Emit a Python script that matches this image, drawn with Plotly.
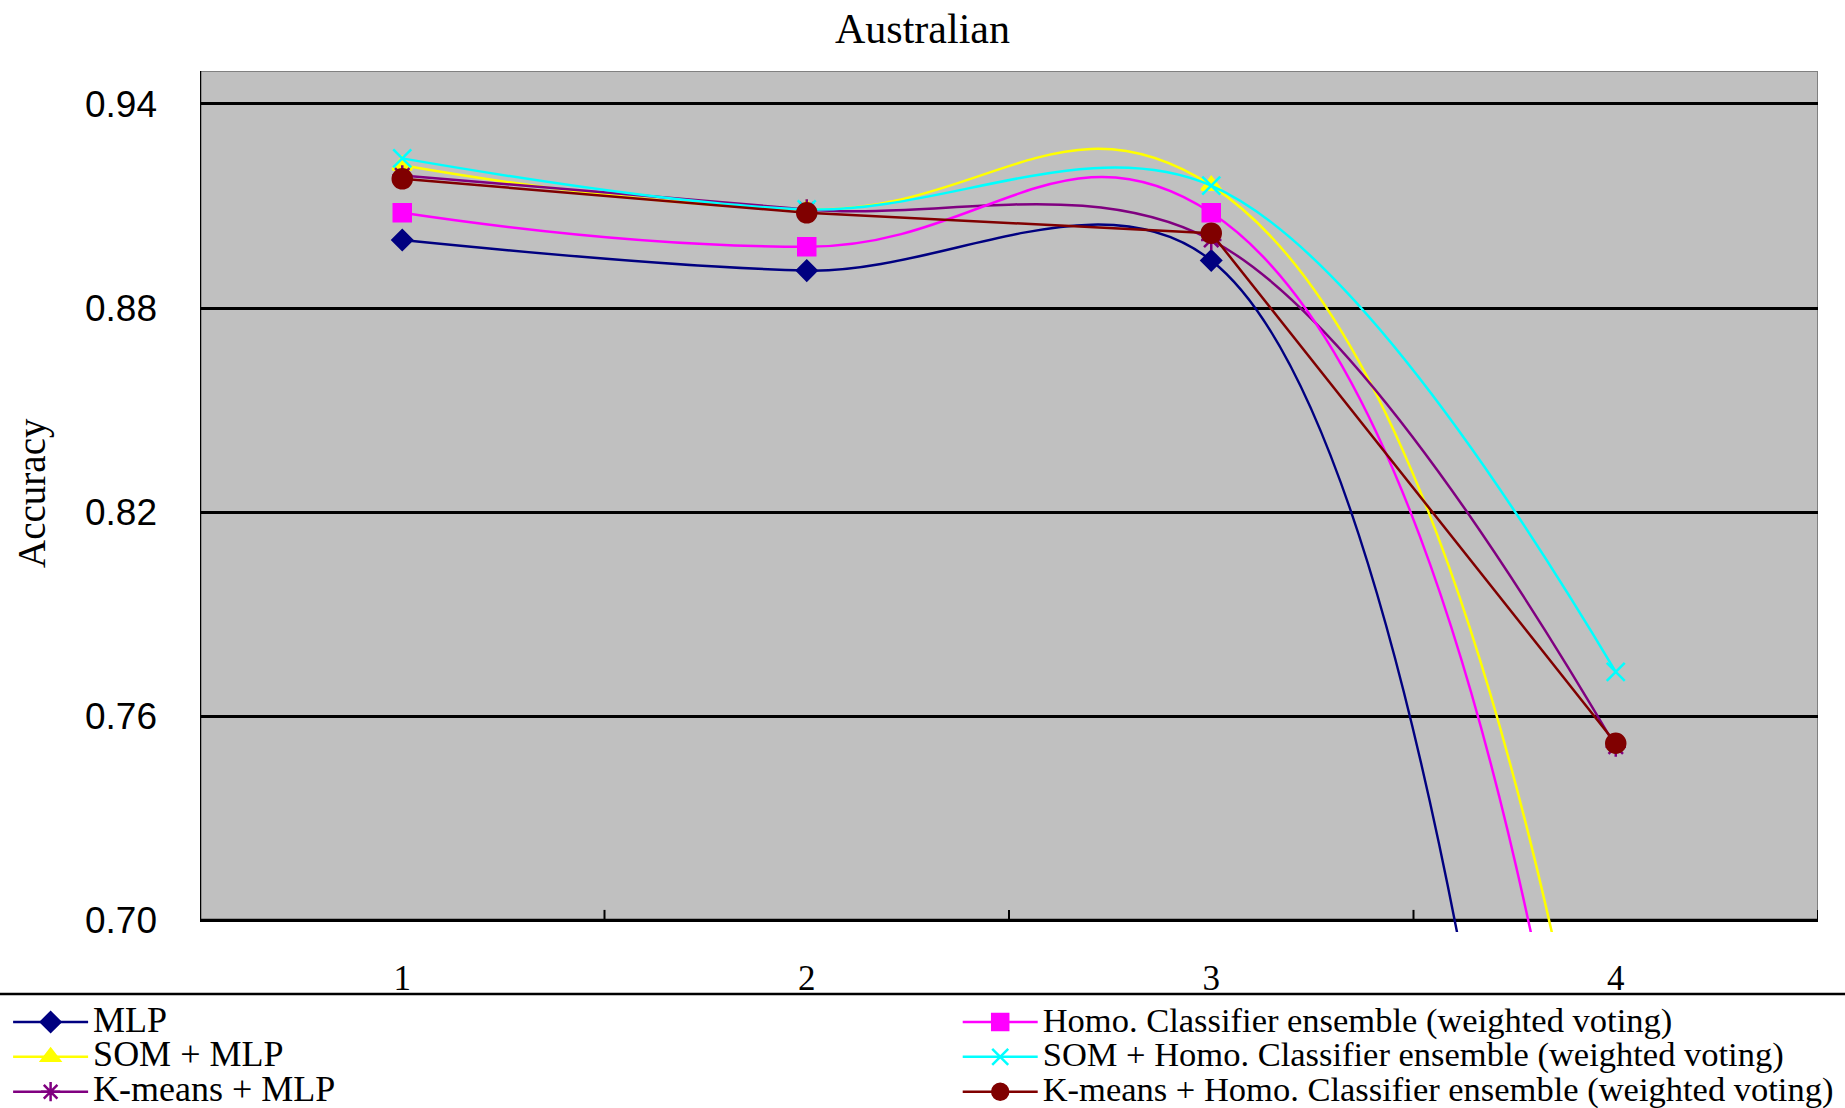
import plotly.graph_objects as go

# Australian dataset: accuracy of each model over four runs
runs = [1, 2, 3, 4]
run_labels = ["1", "2", "3", "4"]

mlp = [0.900, 0.891, 0.894, 0.35]
som_mlp = [0.922, 0.909, 0.916, 0.60]
kmeans_mlp = [0.919, 0.909, 0.900, 0.751]
homo = [0.908, 0.898, 0.908, 0.55]
som_homo = [0.924, 0.909, 0.916, 0.773]
kmeans_homo = [0.918, 0.908, 0.902, 0.752]

series_names = [
    "MLP",
    "SOM + MLP",
    "K-means + MLP",
    "Homo. Classifier ensemble (weighted voting)",
    "SOM + Homo. Classifier ensemble (weighted voting)",
    "K-means + Homo. Classifier ensemble (weighted voting)",
]

y_ticks = [0.70, 0.76, 0.82, 0.88, 0.94]

Y_LOW, Y_TOP = 0.70, 0.9497
SERIF = "Liberation Serif, Times New Roman, serif"
SANS = "Liberation Sans, Arial, sans-serif"

# (values, colour, marker symbol, marker size, line shape, smoothing, legend)
styles = [
    (mlp, "#000080", "diamond", 15, "spline", 1.0, "legend"),
    (som_mlp, "#FFFF00", "triangle-up", 17, "spline", 1.3, "legend"),
    (kmeans_mlp, "#800080", "asterisk-open", 17, "spline", 1.0, "legend"),
    (homo, "#FF00FF", "square", 17, "spline", 1.3, "legend2"),
    (som_homo, "#00FFFF", "x-thin-open", 18, "spline", 1.0, "legend2"),
    (kmeans_homo, "#800000", "circle", 19, "linear", 0, "legend2"),
]
legend_text_px = {"legend": 36, "legend2": 34.5}

fig = go.Figure()
for name, (vals, color, symbol, size, shape, smooth, leg) in zip(series_names, styles):
    fig.add_trace(go.Scatter(
        x=runs, y=vals, mode="lines+markers",
        name=f'<span style="font-size:{legend_text_px[leg]}px">{name}</span>',
        legend=leg,
        line=dict(color=color, width=2.5, shape=shape, smoothing=smooth),
        marker=dict(symbol=symbol, size=size, color=color,
                    line=dict(color=color, width=2.5)),
    ))

shapes = [
    # grey plot area
    dict(type="rect", xref="x", yref="y", x0=0.5, x1=4.5, y0=Y_LOW, y1=Y_TOP,
         fillcolor="#C0C0C0", line=dict(width=0), layer="below"),
    # plot area frame
    dict(type="rect", xref="x", yref="y", x0=0.5, x1=4.5, y0=Y_LOW, y1=Y_TOP,
         line=dict(color="#808080", width=2), layer="below"),
    # value axis line
    dict(type="line", xref="x", yref="y", x0=0.5, x1=0.5, y0=Y_LOW, y1=Y_TOP,
         line=dict(color="black", width=2.5), layer="below"),
    # category axis line
    dict(type="line", xref="x", yref="y", x0=0.5, x1=4.5, y0=Y_LOW, y1=Y_LOW,
         line=dict(color="black", width=2.5), layer="below"),
    # legend separator
    dict(type="line", xref="paper", yref="paper", x0=-0.13, x1=1.02,
         y0=-0.072, y1=-0.072, line=dict(color="black", width=2.5)),
]
# category boundary ticks
for r in runs:
    shapes.append(dict(type="line", xref="x", yref="y", x0=r + 0.5, x1=r + 0.5,
                       y0=Y_LOW, y1=Y_LOW + 0.003,
                       line=dict(color="black", width=2), layer="below"))

legend_common = dict(orientation="v", y=-0.0785, xanchor="left", yanchor="top",
                     bgcolor="rgba(0,0,0,0)", borderwidth=0, itemwidth=75,
                     font=dict(family=SERIF, size=24.5, color="black"))

fig.update_layout(
    width=1845, height=1108,
    margin=dict(l=200, r=27, t=71, b=176, autoexpand=False),
    paper_bgcolor="white", plot_bgcolor="white",
    title=dict(text="Australian", x=0.5, xref="container", xanchor="center",
               y=1 - 28 / 1108, yref="container", yanchor="middle",
               font=dict(family=SERIF, size=42, color="black")),
    xaxis=dict(range=[0.5, 4.5], tickvals=runs, ticktext=run_labels,
               showgrid=False, zeroline=False, showline=False, ticks="",
               ticklabelstandoff=22,
               tickfont=dict(family=SERIF, size=35, color="black")),
    yaxis=dict(range=[0.6965, Y_TOP], tickvals=y_ticks,
               ticktext=[f"{v:.2f}" for v in y_ticks],
               showgrid=True, gridcolor="black", gridwidth=2.5,
               zeroline=False, showline=False, ticks="",
               ticklabelstandoff=42,
               tickfont=dict(family=SANS, size=37, color="black")),
    shapes=shapes,
    annotations=[dict(text="Accuracy", textangle=-90, xref="paper", yref="paper",
                      x=-0.1038, y=0.51, xanchor="center", yanchor="middle",
                      showarrow=False,
                      font=dict(family=SERIF, size=39, color="black"))],
    legend=dict(legend_common, x=-0.1186),
    legend2=dict(legend_common, x=0.4683),
    showlegend=True,
)

fig.write_html("out.html")
